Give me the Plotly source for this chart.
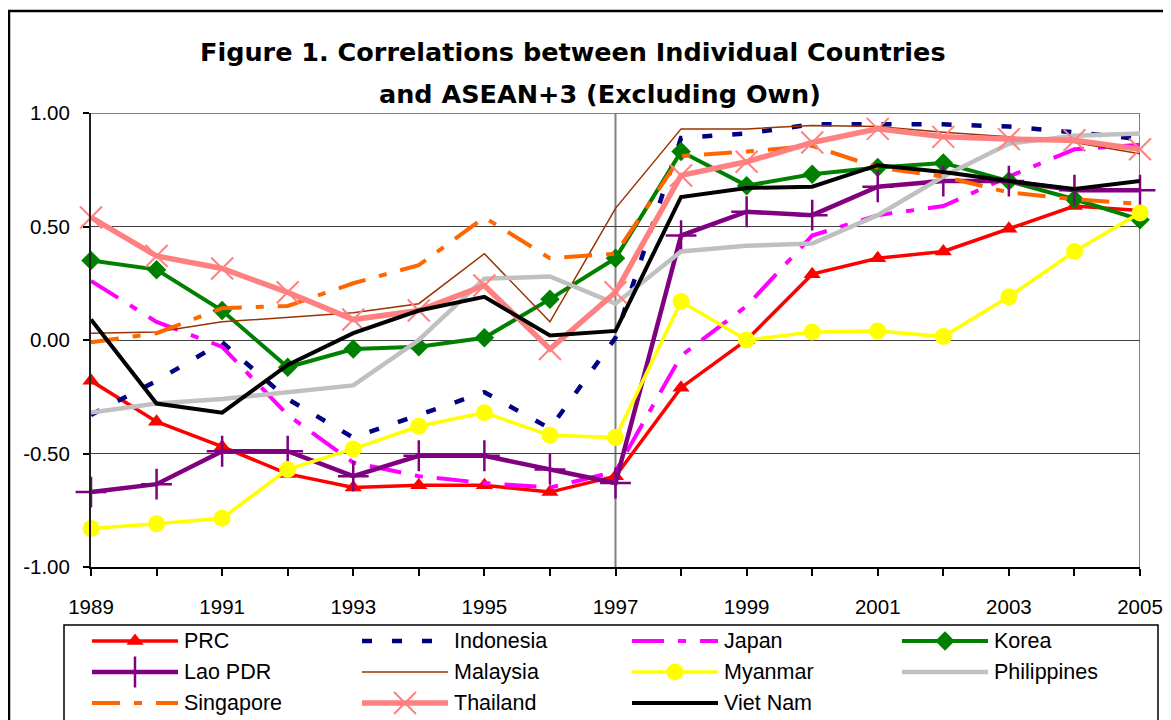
import plotly.graph_objects as go

# ---------------- data ----------------
years = list(range(1989, 2006))
x_tick_labels = [str(y) if (y - 1989) % 2 == 0 else "" for y in years]
y_tick_values = [-1.0, -0.5, 0.0, 0.5, 1.0]
y_tick_labels = ["-1.00", "-0.50", "0.00", "0.50", "1.00"]

series_names = ["PRC", "Indonesia", "Japan", "Korea", "Lao PDR", "Malaysia",
                "Myanmar", "Philippines", "Singapore", "Thailand", "Viet Nam"]

prc         = [-0.18, -0.36, -0.47, -0.59, -0.65, -0.64, -0.64, -0.67, -0.60, -0.21, 0.00, 0.29, 0.36, 0.39, 0.49, 0.59, 0.57]
indonesia   = [-0.33, -0.18, -0.01, -0.26, -0.43, -0.33, -0.23, -0.39, 0.01, 0.89, 0.91, 0.95, 0.95, 0.95, 0.94, 0.915, 0.885]
japan       = [0.26, 0.08, -0.03, -0.33, -0.54, -0.60, -0.63, -0.65, -0.58, -0.07, 0.15, 0.46, 0.55, 0.59, 0.72, 0.84, 0.86]
korea       = [0.35, 0.31, 0.13, -0.12, -0.04, -0.03, 0.01, 0.18, 0.36, 0.83, 0.68, 0.73, 0.76, 0.78, 0.70, 0.62, 0.53]
lao_pdr     = [-0.67, -0.635, -0.49, -0.49, -0.60, -0.51, -0.51, -0.57, -0.63, 0.46, 0.565, 0.55, 0.675, 0.70, 0.70, 0.66, 0.66]
malaysia    = [0.03, 0.035, 0.08, 0.10, 0.12, 0.16, 0.38, 0.08, 0.58, 0.93, 0.93, 0.945, 0.94, 0.915, 0.895, 0.87, 0.82]
myanmar     = [-0.83, -0.81, -0.785, -0.57, -0.48, -0.38, -0.32, -0.42, -0.43, 0.17, 0.00, 0.035, 0.04, 0.015, 0.19, 0.39, 0.56]
philippines = [-0.32, -0.28, -0.26, -0.23, -0.20, 0.00, 0.27, 0.28, 0.16, 0.39, 0.415, 0.425, 0.55, 0.72, 0.865, 0.90, 0.91]
singapore   = [-0.01, 0.03, 0.14, 0.15, 0.25, 0.33, 0.54, 0.36, 0.38, 0.81, 0.83, 0.855, 0.76, 0.72, 0.65, 0.62, 0.60]
thailand    = [0.54, 0.37, 0.315, 0.21, 0.09, 0.13, 0.24, -0.04, 0.21, 0.725, 0.785, 0.87, 0.93, 0.895, 0.885, 0.88, 0.84]
viet_nam    = [0.09, -0.28, -0.32, -0.11, 0.03, 0.13, 0.19, 0.02, 0.04, 0.63, 0.67, 0.675, 0.77, 0.74, 0.70, 0.665, 0.70]

series_values = [prc, indonesia, japan, korea, lao_pdr, malaysia,
                 myanmar, philippines, singapore, thailand, viet_nam]

# ---------------- styles ----------------
styles = {
    "PRC":         dict(color="#FF0000", width=3.5, dash="solid", symbol="triangle-up", msize=15, mline=0),
    "Indonesia":   dict(color="#000080", width=4.5, dash="10px,20px", symbol=None),
    "Japan":       dict(color="#FF00FF", width=4, dash="32px,14px,8px,14px", symbol=None),
    "Korea":       dict(color="#008000", width=4, dash="solid", symbol="diamond", msize=15, mline=0),
    "Lao PDR":     dict(color="#800080", width=4.5, dash="solid", symbol="cross-thin", msize=22, mline=2.5),
    "Malaysia":    dict(color="#993300", width=1.5, dash="solid", symbol=None),
    "Myanmar":     dict(color="#FFFF00", width=3.5, dash="solid", symbol="circle", msize=17, mline=0),
    "Philippines": dict(color="#C0C0C0", width=4.5, dash="solid", symbol=None),
    "Singapore":   dict(color="#FF6600", width=4, dash="28px,14px,8px,14px", symbol=None),
    "Thailand":    dict(color="#FF8080", width=5.5, dash="solid", symbol="x-thin", msize=22, mline=2),
    "Viet Nam":    dict(color="#000000", width=4, dash="solid", symbol=None),
}

W, H = 1171, 720
OFF = 8  # page body margin offset (px)
TITLE_FONT = "DejaVu Sans"
FONT = "Liberation Sans, Arial, sans-serif"


def px_x(p):
    return (p - OFF) / W


def px_y(p):
    return 1 - (p - OFF) / H


PL, PR, PT, PB = 91, 1140, 113, 567   # plot area in reference pixels

fig = go.Figure()

for name, vals in zip(series_names, series_values):
    st = styles[name]
    kw = dict(x=years, y=vals, name=name, showlegend=False, cliponaxis=False,
              line=dict(color=st["color"], width=st["width"], dash=st["dash"]))
    if st["symbol"]:
        kw["mode"] = "lines+markers"
        kw["marker"] = dict(symbol=st["symbol"], size=st["msize"], color=st["color"],
                            line=dict(width=st["mline"], color=st["color"]))
    else:
        kw["mode"] = "lines"
    fig.add_trace(go.Scatter(**kw))

# ---------------- custom legend (auxiliary pixel axis, reference-pixel units) ----------------
LEG_TOP = 612
leg_col_x = [92, 362, 632, 902]
leg_row_y = [641, 672, 703]
leg_len = 86
for i, name in enumerate(series_names):
    st = styles[name]
    x0 = leg_col_x[i % 4]
    yy = leg_row_y[i // 4]
    fig.add_trace(go.Scatter(x=[x0, x0 + leg_len], y=[yy, yy], mode="lines", xaxis="x2", yaxis="y2",
                             showlegend=False, hoverinfo="skip", cliponaxis=False,
                             line=dict(color=st["color"], width=st["width"], dash=st["dash"])))
    if st["symbol"]:
        fig.add_trace(go.Scatter(x=[x0 + leg_len / 2], y=[yy], mode="markers", xaxis="x2", yaxis="y2",
                                 showlegend=False, hoverinfo="skip", cliponaxis=False,
                                 marker=dict(symbol=st["symbol"], size=st["msize"], color=st["color"],
                                             line=dict(width=st["mline"], color=st["color"]))))
    fig.add_annotation(x=x0 + leg_len + 4, y=yy, xref="x2", yref="y2", text=name, showarrow=False,
                       xanchor="left", yanchor="middle", font=dict(family=FONT, size=21.5, color="black"))

# legend frame
fig.add_shape(type="rect", xref="x2", yref="y2", x0=64, x1=1158, y0=625, y1=760,
              line=dict(color="black", width=1.5), fillcolor="rgba(0,0,0,0)", layer="below")

# ---------------- plot frame elements ----------------
fig.add_shape(type="line", xref="x", yref="y", x0=1997, x1=1997, y0=-1, y1=1,
              line=dict(color="#808080", width=2), layer="below")
fig.add_shape(type="line", xref="x", yref="y", x0=2005, x1=2005, y0=-1, y1=1,
              line=dict(color="#808080", width=2), layer="below")
fig.add_shape(type="line", xref="x", yref="y", x0=1989, x1=2005, y0=1, y1=1,
              line=dict(color="#808080", width=2), layer="below")

# outer chart border (cropped on right & bottom)
fig.add_shape(type="rect", xref="paper", yref="paper",
              x0=px_x(9), x1=1.05, y0=-0.1, y1=px_y(11),
              line=dict(color="black", width=2.5), fillcolor="rgba(0,0,0,0)", layer="below")

# title
fig.add_annotation(x=px_x(573), y=px_y(52), xref="paper", yref="paper", showarrow=False,
                   text="<b>Figure 1. Correlations between Individual Countries</b>",
                   xanchor="center", yanchor="middle", font=dict(family=TITLE_FONT, size=25.5, color="black"))
fig.add_annotation(x=px_x(600), y=px_y(94), xref="paper", yref="paper", showarrow=False,
                   text="<b>and ASEAN+3 (Excluding Own)</b>",
                   xanchor="center", yanchor="middle", font=dict(family=TITLE_FONT, size=25.5, color="black"))

fig.update_layout(
    width=W, height=H, autosize=False,
    margin=dict(l=0, r=0, t=0, b=0, pad=0),
    paper_bgcolor="white", plot_bgcolor="white",
    font=dict(family=FONT, size=20, color="black"),
    showlegend=False,
    xaxis=dict(domain=[px_x(PL), px_x(PR)], range=[1989, 2005], tickmode="array",
               tickvals=years, ticktext=x_tick_labels, ticks="outside", ticklen=7,
               tickwidth=1.5, tickcolor="black", showline=True, linecolor="black", linewidth=1.5,
               showgrid=False, zeroline=False, automargin=False, ticklabelstandoff=14,
               tickfont=dict(family=FONT, size=20.5, color="black"), anchor="y"),
    yaxis=dict(domain=[px_y(PB), px_y(PT)], range=[-1, 1], tickmode="array",
               tickvals=y_tick_values, ticktext=y_tick_labels, ticks="outside", ticklen=6,
               tickwidth=1.5, tickcolor="black", showline=True, linecolor="#202020", linewidth=2,
               showgrid=True, gridcolor="#404040", gridwidth=1.3, zeroline=False,
               automargin=False, ticklabelstandoff=9,
               tickfont=dict(family=FONT, size=20.5, color="black"), anchor="x"),
    xaxis2=dict(domain=[0, 1], range=[OFF, W + OFF], visible=False, fixedrange=True, anchor="y2"),
    yaxis2=dict(domain=[0, px_y(LEG_TOP)], range=[H + OFF, LEG_TOP], visible=False,
                fixedrange=True, anchor="x2"),
)

fig.write_html("out.html")
